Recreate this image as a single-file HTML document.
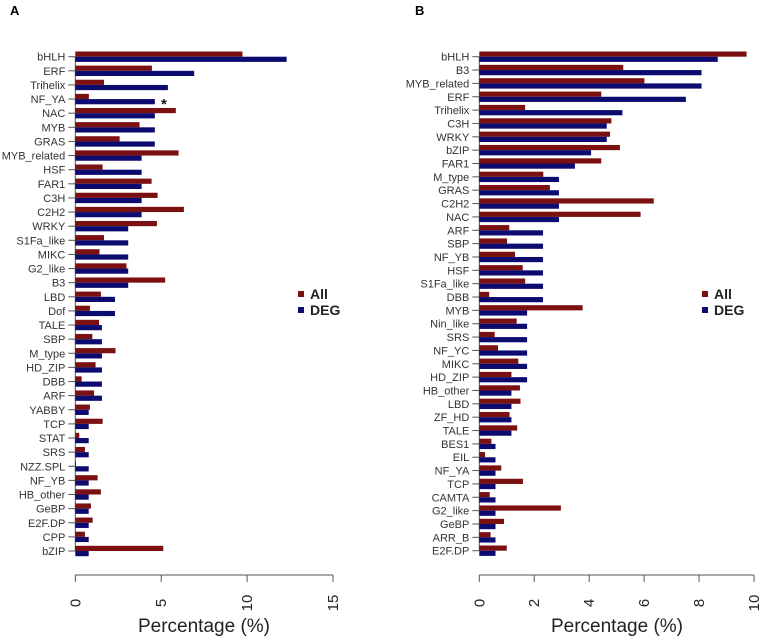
<!DOCTYPE html>
<html><head><meta charset="utf-8"><style>
html,body{margin:0;padding:0;background:#fff;}
svg{display:block;font-family:"Liberation Sans",sans-serif;}
</style></head><body>
<svg id="chart" width="762" height="637" viewBox="0 0 762 637" xmlns="http://www.w3.org/2000/svg">
<text x="10" y="15" font-size="13" font-weight="bold">A</text>
<text x="415" y="15" font-size="13" font-weight="bold">B</text>
<g id="pa"></g>
<g id="pb"></g>
</svg>
<script>
const catsA = ["bHLH","ERF","Trihelix","NF_YA","NAC","MYB","GRAS","MYB_related","HSF","FAR1","C3H","C2H2","WRKY","S1Fa_like","MIKC","G2_like","B3","LBD","Dof","TALE","SBP","M_type","HD_ZIP","DBB","ARF","YABBY","TCP","STAT","SRS","NZZ.SPL","NF_YB","HB_other","GeBP","E2F.DP","CPP","bZIP"];
const allA = [9.73,4.46,1.67,0.79,5.85,3.74,2.58,6.01,1.59,4.44,4.79,6.32,4.75,1.67,1.41,2.98,5.23,1.49,0.85,1.38,0.99,2.34,1.18,0.37,1.09,0.85,1.59,0.23,0.56,0.04,1.30,1.49,0.91,1.01,0.56,5.12];
const degA = [12.3,6.92,5.39,4.63,4.63,4.63,4.63,3.86,3.86,3.86,3.86,3.86,3.08,3.08,3.08,3.08,3.08,2.31,2.31,1.55,1.55,1.55,1.55,1.55,1.55,0.78,0.78,0.78,0.78,0.78,0.78,0.78,0.78,0.78,0.78,0.78];
const ticksA = [0,5,10,15];
const catsB = ["bHLH","B3","MYB_related","ERF","Trihelix","C3H","WRKY","bZIP","FAR1","M_type","GRAS","C2H2","NAC","ARF","SBP","NF_YB","HSF","S1Fa_like","DBB","MYB","Nin_like","SRS","NF_YC","MIKC","HD_ZIP","HB_other","LBD","ZF_HD","TALE","BES1","EIL","NF_YA","TCP","CAMTA","G2_like","GeBP","ARR_B","E2F.DP"];
const allB = [9.73,5.24,6.01,4.44,1.67,4.81,4.76,5.12,4.44,2.33,2.57,6.35,5.87,1.09,1.01,1.30,1.58,1.67,0.36,3.76,1.36,0.56,0.68,1.42,1.17,1.48,1.50,1.10,1.38,0.44,0.21,0.80,1.59,0.38,2.97,0.90,0.41,1.00];
const degB = [8.68,8.09,8.09,7.52,5.21,4.64,4.64,4.07,3.48,2.90,2.90,2.90,2.90,2.32,2.32,2.32,2.32,2.32,2.32,1.74,1.74,1.74,1.74,1.74,1.74,1.17,1.17,1.17,1.17,0.59,0.59,0.59,0.59,0.59,0.59,0.59,0.59,0.59];
const ticksB = [0,2,4,6,8,10];

const NS="http://www.w3.org/2000/svg";
function mk(tag,attrs,parent,txt){const e=document.createElementNS(NS,tag);for(const k in attrs)e.setAttribute(k,attrs[k]);if(txt!==undefined)e.textContent=txt;parent.appendChild(e);return e;}

function panel(g,cats,all,deg,ticks,x0,x1,vmax,yTop,yBot,legX,titleX){
  const sx=v=>x0+(x1-x0)*v/vmax;
  const step=(yBot-yTop)/(cats.length-1);
  const sy=i=>yTop+i*step;
  const axl=mk('line',{x1:x0,y1:sy(0),x2:x0,y2:sy(cats.length-1),stroke:'#555','stroke-width':1},g);
  
  
  cats.forEach((c,i)=>{
    const y=sy(i);
    const t=mk('line',{x1:x0-7,y1:y,x2:x0,y2:y,stroke:'#555','stroke-width':1},g);
    
    
    const l=mk('text',{x:x0-10,y:y+4,'font-size':11,fill:'#333','text-anchor':'end'},g,c);
    
    
    const r=mk('rect',{x:x0,y:y-5.2,width:sx(all[i])-x0,height:5.2,fill:'#7b1010'},g);
    
    
    const b=mk('rect',{x:x0,y:y,width:sx(deg[i])-x0,height:5.2,fill:'#0c0c70'},g);
    
    
  });
  const ay=575;
  const xl=mk('line',{x1:sx(ticks[0]),y1:ay,x2:sx(ticks[ticks.length-1]),y2:ay,stroke:'#555','stroke-width':1},g);
  
  
  ticks.forEach(v=>{
    const x=sx(v);
    const t=mk('line',{x1:x,y1:ay,x2:x,y2:ay+7,stroke:'#555','stroke-width':1},g);
    
    
    const l=mk('text',{x:0,y:0,'font-size':15,fill:'#222','text-anchor':'middle',transform:`translate(${x+5},603) rotate(-90)`},g,String(v));
    
    
  });
  const tt=mk('text',{x:titleX,y:632,'font-size':19,fill:'#222','text-anchor':'middle'},g,'Percentage (%)');
  
  
  [['All','#7b1010',296],['DEG','#0c0c70',312]].forEach(([n,c,y])=>{
    const s=mk('rect',{x:legX,y:y-5,width:6,height:6,fill:c},g);
    
    
    const t=mk('text',{x:legX+12,y:y+3,'font-size':14,'font-weight':'bold',fill:'#222'},g,n);
    
    
  });
}
const pa=document.getElementById('pa');
panel(pa,catsA,allA,degA,ticksA,75.3,333,15,56.7,551,298,204);
const star=mk('text',{x:161,y:109,'font-size':15,'font-weight':'bold',fill:'#111'},pa,'*');


panel(document.getElementById('pb'),catsB,allB,degB,ticksB,479.3,754,10,56.7,550.7,702,617);
</script>
</body></html>
